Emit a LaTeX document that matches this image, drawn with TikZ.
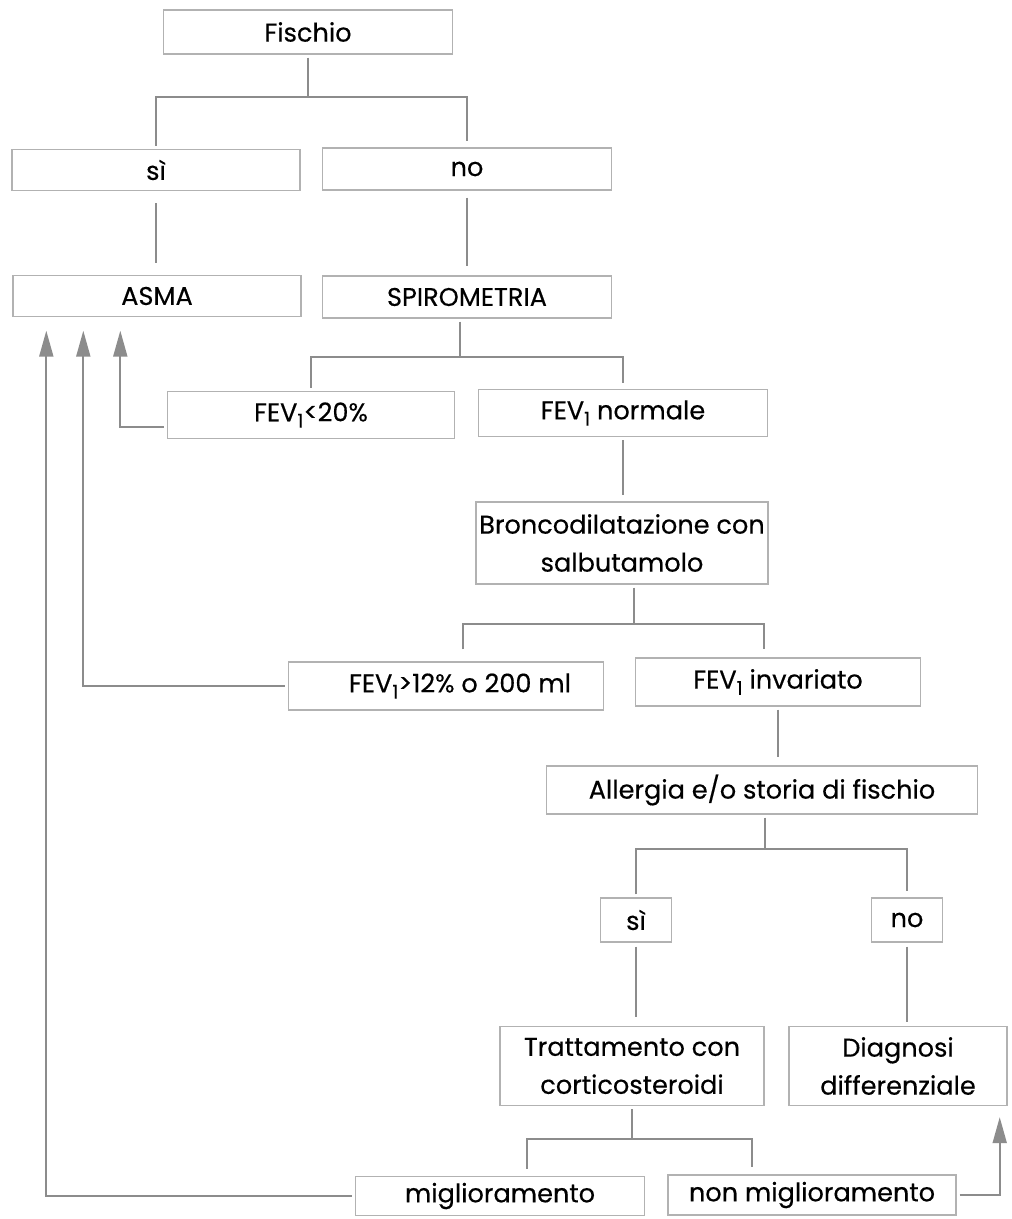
\documentclass[tikz,border=0pt]{standalone}
\usepackage{fontspec}
\setmainfont{Poppins}[FakeBold=0.35]
\usetikzlibrary{arrows.meta,positioning,calc}

\definecolor{boxgray}{RGB}{178,178,178}
\definecolor{linegray}{RGB}{140,140,140}
\newcommand{\fev}{FEV\raisebox{-0.45ex}{\fontsize{9.5}{9.5}\selectfont 1}}

\begin{document}
\begin{tikzpicture}[x=0.5pt, y=-0.5pt,
        font=\fontsize{12.8}{19}\selectfont,
        every node/.style={inner sep=0pt, align=center}]
      \tikzstyle{box} = [draw=boxgray, line width=0.7pt, minimum width=144.5pt, minimum height=21pt]
      \tikzstyle{link} = [draw=linegray, line width=1pt, shorten <=1.5pt, shorten >=3pt]
      \tikzstyle{back} = [link, shorten >=6.75pt, -{Triangle[length=13pt,width=7pt]}]
      \path[fill=white] (0,0) rectangle (1011,1219);
      \useasboundingbox (0,0) rectangle (1011,1219);

      % first question
      \node (fischio) [box, minimum height=22pt] at (308,32) {Fischio};
      \node (si1) [box, minimum width=144pt, minimum height=20.5pt] at (156,170) {sì};
      \node (no1) [box] at (467,169) {no};
      \node (asma) [box, minimum width=144pt, minimum height=20.5pt] at (157,296) {ASMA};
      \node (spiro) [box] at (467,297) {SPIROMETRIA};

      % spirometry branch
      \node (fevlow) [box, minimum width=143.5pt, minimum height=23.5pt] at (311,415) {\fev<20\%};
      \node (fevnorm) [box, minimum height=23.5pt] at (623,413) {\fev\ normale};
      \node (bronco) [box, minimum width=146pt, minimum height=41pt] at (622,543) {Broncodilatazione con\\salbutamolo};
      \node (fevup) [box, minimum width=157.5pt, minimum height=24pt] at (446,686) {\hspace*{14pt}\fev>12\% o 200 ml};
      \node (fevinv) [box, minimum width=142.5pt, minimum height=24pt] at (778,682) {\fev\ invariato};
      \node (allergia) [box, minimum width=215.5pt, minimum height=24pt] at (762,790) {Allergia e/o storia di fischio};

      % allergy branch
      \node (si2) [box, minimum width=35.5pt, minimum height=22pt] at (636,920) {sì};
      \node (no2) [box, minimum width=35.5pt, minimum height=22pt] at (907,920) {no};
      \node (tratt) [box, minimum width=132pt, minimum height=39.5pt] at (632,1066) {Trattamento con\\corticosteroidi};
      \node (diagn) [box, minimum width=109pt, minimum height=39.5pt] at (898,1066) {Diagnosi\\differenziale};
      \node (migl) [box, minimum height=19.5pt] at (500,1196) {miglioramento};
      \node (nonmigl) [box, minimum width=144pt, minimum height=20pt] at (812,1195) {non miglioramento};

      % forks
      \draw[link, shorten >=0pt] (fischio.south) -- ++(0,42) coordinate (f1);
      \draw[link] (si1.north) |- (f1) -| (no1.north);
      \draw[link, shorten >=0pt] ([xshift=-3.5pt]spiro.south) -- ++(0,38) coordinate (f2);
      \draw[link] (fevlow.north) |- (f2) -| (fevnorm.north);
      \draw[link, shorten >=0pt] ([xshift=6pt]bronco.south) -- ++(0,39) coordinate (f3);
      \draw[link, shorten <=6pt, shorten >=4pt] ([xshift=8.5pt]fevup.north) |- (f3) -| ([xshift=-7pt]fevinv.north);
      \draw[link, shorten >=0pt] ([xshift=1.5pt]allergia.south) -- ++(0,34) coordinate (f4);
      \draw[link] (si2.north) |- (f4) -| (no2.north);
      \draw[link, shorten >=0pt] (tratt.south) -- ++(0,33) coordinate (f5);
      \draw[link, shorten <=3.5pt, shorten >=3.5pt] ([xshift=13.5pt]migl.north) |- (f5) -| ([xshift=-30pt]nonmigl.north);

      % straight links
      \draw[link, shorten <=6pt, shorten >=6pt] (si1.south) -- (si1.south |- asma.north);
      \draw[link, shorten <=3.5pt, shorten >=4.5pt] (no1.south) -- (no1.south |- spiro.north);
      \draw[link, shorten >=3pt] (fevnorm.south) -- (fevnorm.south |- bronco.north);
      \draw[link, shorten >=4pt] (fevinv.south) -- (fevinv.south |- allergia.north);
      \draw[link, shorten <=2pt, shorten >=4.5pt] (si2.south) -- (si2.south |- tratt.north);
      \draw[link, shorten <=2pt, shorten >=2pt] (no2.south) -- (no2.south |- diagn.north);

      % arrows back to ASMA
      \draw[back] ([yshift=-6pt]fevlow.west) -| ([xshift=54pt]asma.south west);
      \draw[back] (fevup.west) -| ([xshift=35.5pt]asma.south west);
      \draw[back] (migl.west) -| ([xshift=17pt]asma.south west);
      \draw[back, shorten >=5.5pt] (nonmigl.east) -| ([xshift=-4pt]diagn.south east);
    \end{tikzpicture}
\end{document}
